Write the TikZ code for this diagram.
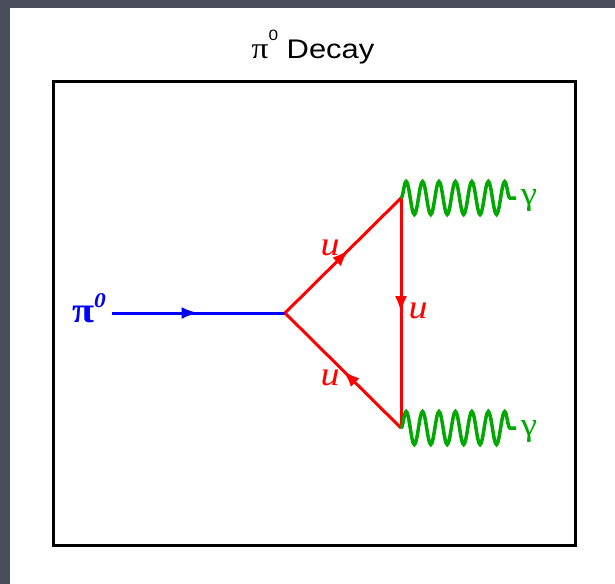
\documentclass[tikz,border=0pt]{standalone}
\usepackage{fontspec}
\setmainfont{Liberation Serif}
\newfontfamily\titlefont[FakeStretch=1.15]{Liberation Sans}
\newfontfamily\labfont[FakeStretch=1.12]{Liberation Serif}
\usetikzlibrary{arrows.meta,decorations.markings,decorations.pathmorphing}
\definecolor{slateBg}{RGB}{74,78,92}
\definecolor{photonGreen}{RGB}{0,168,0}
\begin{document}
\begin{tikzpicture}[x=1bp,y=-1bp,
    pdFrame/.style={line width=3bp,black},
    pdMid/.style={postaction={decorate},
        decoration={markings,mark=at position #1 with {\arrow{Latex[length=17bp,width=12bp]}}}},
    pdPion/.style={line width=3bp,blue},
    pdQuark/.style={line width=3bp,red},
    pdPhoton/.style={line width=3.5bp,photonGreen,decorate,
        decoration={snake,segment length=16.43bp,amplitude=16.5bp}},
    pdLab/.style={inner sep=0pt,font=\labfont\fontsize{34}{36}\selectfont\itshape},
    pdGam/.style={inner sep=0pt,text=photonGreen,font=\labfont\fontsize{33}{36}\selectfont},
]
% Slide background and page
\fill[slateBg] (0,0) rectangle (615,584);
\fill[white] (10,8) rectangle (615,584);
\node[anchor=base,inner sep=0pt] (title) at (313,59)
    {\titlefont\fontsize{27}{30}\selectfont{\labfont\fontsize{30}{30}\selectfont π}\raisebox{18bp}{\fontsize{15}{15}\selectfont 0} Decay};
\draw[pdFrame] (53,82) rectangle (575,545);
% Vertices
\coordinate (pi) at (112,313);
\coordinate (v) at (285,313);
\coordinate (gt) at (401,198);
\coordinate (gb) at (401,428);
\coordinate (gtEnd) at (516,198);
\coordinate (gbEnd) at (516,428);
% Pion and quark loop
\node[anchor=base west,inner sep=0pt,text=blue] (pionLab) at (72,322)
    {\labfont\fontsize{36}{36}\selectfont\bfseries π\raisebox{15bp}{\fontsize{21}{21}\selectfont\itshape 0}};
\draw[pdPion,pdMid=0.5] (pi) -- (v);
\draw[pdQuark,pdMid=0.55] (v) -- (gt);
\draw[pdQuark,pdMid=0.5] (gt) -- (gb);
\draw[pdQuark,pdMid=0.5] (gb) -- (v);
\node[pdLab,text=red] (uTop) at (330,248) {u};
\node[pdLab,text=red] (uMid) at (418,311) {u};
\node[pdLab,text=red] (uBot) at (330,378) {u};
% Photons
\draw[pdPhoton] (gt) -- (gtEnd);
\draw[pdPhoton] (gb) -- (gbEnd);
\node[pdGam] (gamTop) at (529,200) {γ};
\node[pdGam] (gamBot) at (529,431) {γ};
\end{tikzpicture}
\end{document}
